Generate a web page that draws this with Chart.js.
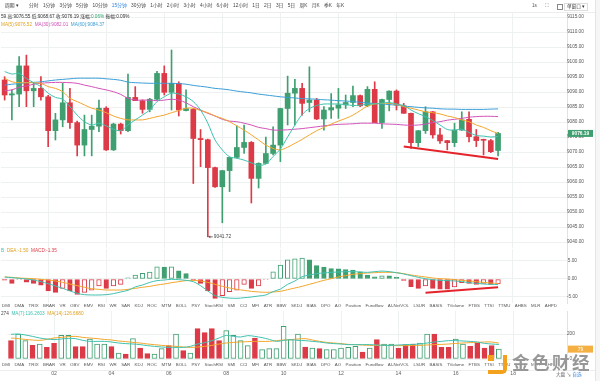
<!DOCTYPE html>
<html><head><meta charset="utf-8">
<script src="https://cdn.jsdelivr.net/npm/chart.js@4.4.1/dist/chart.umd.min.js"></script>
<style>
html,body{margin:0;padding:0;background:#fff}
body{width:600px;height:381px;overflow:hidden;position:relative;font-family:"Liberation Sans",Arial,"Noto Sans CJK SC",sans-serif;color:#333}
canvas{position:absolute;left:0}
.t{position:absolute;white-space:nowrap;line-height:1;font-size:4.7px}
.ind{position:absolute;display:flex;gap:4.4px;white-space:nowrap;line-height:1;font-size:4.4px;color:#555;left:2px}
</style></head><body>
<div style="position:absolute;left:0;top:12px;width:595px;height:1px;background:#eceeee"></div>
<div style="position:absolute;left:595px;top:0;width:1px;height:381px;background:#e4e4e4"></div>
<div style="position:absolute;left:596px;top:0;width:4px;height:381px;background:#f6f6f6"></div>
<canvas id="cMain" width="595" height="258" style="top:0"></canvas>
<canvas id="cMacd" width="595" height="66" style="top:243px"></canvas>
<canvas id="cVol" width="595" height="81" style="top:300px"></canvas>
<script>
// ---------------- DATA ----------------
const TIMES = ["00:30","00:45","01:00","01:15","01:30","01:45","02:00","02:15","02:30","02:45",
"03:00","03:15","03:30","03:45","04:00","04:15","04:30","04:45","05:00","05:15",
"05:30","05:45","06:00","06:15","06:30","06:45","07:00","07:15","07:30","07:45",
"08:00","08:15","08:30","08:45","09:00","09:15","09:30","09:45","10:00","10:15",
"10:30","10:45","11:00","11:15","11:30","11:45","12:00","12:15","12:30","12:45",
"13:00","13:15","13:30","13:45","14:00","14:15","14:30","14:45","15:00","15:15",
"15:30","15:45","16:00","16:15","16:30","16:45","17:00","17:15","17:30","17:45",
"18:00","18:15","18:30","18:45","19:00","19:15","19:30","19:45"];

const PRICE_TICKS = [9040,9045,9050,9055,9060,9065,9070,9075,9080,9085,9090,9095,9100,9105,9110,9115];
const MACD_TICKS = [-5, 0, 5];
const VOL_TICKS = [0, 200];

const OPEN = [9094.0,9089.0,9089.3,9098.7,9090.4,9091.2,9088.4,9077.1,9080.7,9086.4,
9079.8,9072.3,9077.5,9078.6,9084.6,9070.7,9079.3,9077.1,9088.2,9087.1,
9084.2,9087.6,9096.2,9089.9,9092.9,9083.8,9084.2,9074.5,9074.1,9064.8,
9058.4,9063.8,9068.2,9071.5,9073.2,9061.2,9066.2,9069.5,9072.3,9084.5,
9089.6,9091.2,9086.5,9087.3,9081.0,9084.0,9084.6,9085.7,9086.5,9088.8,
9085.4,9090.9,9079.8,9087.5,9090.3,9085.4,9082.9,9073.1,9077.1,9083.4,
9075.7,9073.8,9073.1,9077.3,9080.9,9075.1,9074.2,9073.8,9070.5];
const HIGH = [9095.1,9090.7,9101.8,9102.3,9092.9,9095.1,9088.9,9082.9,9092.9,9091.2,
9080.3,9082.3,9082.3,9087.3,9085.1,9079.6,9079.6,9096.0,9091.8,9087.4,
9087.9,9096.9,9098.7,9104.0,9093.4,9090.7,9084.5,9077.5,9074.3,9065.0,
9063.9,9068.3,9078.7,9079.0,9073.5,9066.4,9075.0,9078.4,9084.6,9095.3,
9094.2,9092.9,9098.4,9087.9,9085.1,9089.5,9091.2,9089.0,9092.0,9089.0,
9091.8,9093.4,9087.6,9090.4,9090.7,9086.2,9083.0,9077.2,9085.1,9083.5,
9077.9,9073.9,9079.6,9083.4,9083.4,9077.5,9074.3,9074.2,9076.55];
const LOW = [9087.3,9080.7,9085.1,9085.1,9085.1,9087.3,9071.8,9074.0,9078.4,9077.9,
9068.7,9068.7,9068.7,9076.8,9070.5,9070.5,9076.0,9076.8,9087.9,9082.9,
9083.4,9087.3,9089.0,9084.0,9082.0,9083.7,9059.5,9065.1,9041.72,9058.2,
9046.4,9056.8,9068.0,9069.5,9053.0,9058.0,9066.0,9069.0,9066.8,9079.0,
9079.0,9082.3,9083.4,9080.8,9077.3,9081.2,9081.2,9084.5,9085.1,9085.1,
9085.1,9079.8,9077.9,9083.7,9084.0,9082.9,9071.2,9071.8,9076.2,9074.6,
9072.9,9070.7,9071.8,9077.2,9073.4,9071.8,9069.0,9069.8,9068.67];
const CLOSE = [9089.0,9089.4,9098.7,9090.4,9091.2,9088.4,9077.1,9080.7,9086.4,9079.8,
9072.3,9077.5,9078.6,9084.6,9070.7,9079.3,9077.1,9088.2,9087.1,9084.2,
9087.6,9096.2,9089.9,9092.9,9084.0,9084.5,9074.5,9074.1,9064.8,9058.4,
9063.8,9068.2,9071.5,9073.2,9061.2,9066.2,9069.5,9072.3,9084.5,9089.6,
9091.2,9086.2,9087.3,9081.0,9084.0,9084.8,9085.7,9086.5,9088.8,9085.4,
9090.9,9079.8,9087.5,9090.3,9085.7,9082.9,9073.1,9077.1,9083.4,9075.7,
9073.7,9073.1,9077.3,9080.7,9075.1,9073.8,9073.9,9070.1,9076.19];

const MA_FAST = [9096.8,9096.0,9096.2,9094.5,9093.1,9091.8,9089.6,9088.2,9087.6,9085.1,
9082.3,9080.1,9079.0,9079.6,9078.7,9077.6,9077.1,9079.0,9080.7,9082.3,
9084.0,9086.8,9088.4,9089.6,9089.3,9088.4,9086.8,9084.0,9079.6,9074.0,
9070.7,9068.4,9067.9,9067.3,9066.4,9065.6,9066.0,9068.5,9071.0,9075.0,
9079.0,9082.5,9084.5,9085.5,9086.0,9086.0,9086.0,9085.8,9085.5,9085.6,
9086.0,9086.0,9086.3,9086.5,9086.0,9085.5,9084.0,9082.8,9081.8,9080.5,
9079.0,9077.5,9077.3,9077.6,9076.5,9075.5,9075.3,9075.0,9075.2];
const MA5 = [9094.6,9093.4,9093.1,9093.1,9093.1,9092.9,9091.8,9091.2,9090.1,9087.9,
9086.8,9085.7,9084.6,9084.0,9083.1,9082.0,9081.2,9080.7,9080.7,9080.7,
9081.2,9081.8,9082.3,9083.1,9083.8,9084.6,9084.6,9083.8,9083.1,9082.0,
9081.2,9080.1,9078.7,9077.3,9075.7,9074.0,9072.3,9071.2,9070.7,9071.6,
9072.9,9074.2,9075.7,9077.1,9078.2,9079.3,9080.3,9081.2,9082.3,9083.8,
9085.3,9086.0,9086.2,9086.2,9085.9,9085.1,9084.6,9084.0,9083.4,9083.1,
9082.7,9082.0,9081.5,9080.7,9080.1,9079.0,9078.2,9077.1,9076.2];
const MA30 = [9090.4,9090.7,9091.6,9092.0,9092.6,9092.9,9093.1,9093.2,9093.2,9093.1,
9092.9,9092.3,9091.8,9091.2,9090.7,9090.1,9089.2,9087.9,9087.3,9087.3,
9087.3,9087.1,9087.3,9087.6,9087.3,9086.4,9085.1,9084.0,9082.9,9082.0,
9080.9,9080.3,9080.1,9079.6,9079.0,9078.2,9077.8,9077.3,9077.3,9077.4,
9077.6,9077.8,9078.1,9078.4,9078.7,9079.0,9079.2,9079.3,9079.4,9079.6,
9079.6,9079.6,9079.4,9079.3,9079.2,9079.0,9078.9,9079.0,9079.3,9079.8,
9080.1,9080.6,9080.9,9081.2,9081.6,9081.8,9081.9,9081.9,9081.8];
const MA60 = [9092.3,9092.6,9092.8,9093.1,9093.2,9093.4,9093.7,9094.0,9094.2,9094.4,
9094.6,9094.6,9094.6,9094.6,9094.4,9094.2,9093.9,9093.3,9093.1,9093.0,
9092.9,9092.9,9092.9,9092.9,9092.8,9092.6,9092.2,9091.9,9091.6,9091.2,
9091.0,9090.7,9090.3,9090.0,9089.7,9089.3,9089.0,9088.7,9088.4,9088.2,
9088.0,9087.8,9087.7,9087.6,9087.4,9087.3,9087.1,9087.0,9086.8,9086.6,
9086.3,9086.2,9086.0,9085.8,9085.6,9085.3,9085.1,9084.9,9084.7,9084.6,
9084.4,9084.3,9084.3,9084.2,9084.2,9084.2,9084.2,9084.3,9084.37];

const MACD_HIST = [-0.3,-1.2,-0.2,-0.9,-1.2,-1.7,-3.3,-3.7,-2.6,-3.3,
-4.3,-3.7,-3.1,-1.9,-2.6,-1.9,-1.5,0.3,1.1,1.6,
1.9,3.4,3.3,3.4,2.3,1.5,-0.3,-1.2,-3.3,-5.4,
-4.6,-3.5,-3.1,-1.5,-2.6,-1.9,-0.2,2.0,3.9,5.3,
5.6,5.8,5.3,3.7,3.3,2.9,2.8,2.6,2.5,2.0,
1.1,0.6,0.9,0.9,0.5,-0.4,-2.1,-2.6,-1.9,-2.6,
-2.8,-2.8,-2.2,-1.0,-1.2,-1.5,-1.2,-1.5,-1.35];
const MACD_DIF = [0.56,0.37,0.19,0,-0.28,-0.74,-1.3,-1.94,-2.6,-3.3,
-4.0,-4.35,-4.44,-4.44,-4.35,-4.07,-3.6,-3.15,-2.2,-1.67,
-0.93,-0.46,-0.28,-0.09,-0.19,-0.37,-0.74,-1.85,-3.33,-4.63,
-5.1,-5.3,-5.37,-5.2,-5.0,-4.72,-4.44,-3.5,-2.8,-1.48,
-0.56,0.65,1.1,1.5,1.67,1.85,1.94,2.04,2.04,1.94,
1.85,2.04,2.2,2.04,1.76,1.39,0.93,0.46,0.09,-0.19,
-0.37,-0.46,-0.56,-0.74,-1.02,-1.2,-1.39,-1.48,-1.55];
const MACD_DEA = [0.56,0.46,0.28,0.19,0.09,-0.09,-0.28,-0.56,-0.93,-1.39,
-1.85,-2.3,-2.69,-2.87,-3.06,-3.06,-3.06,-2.87,-2.6,-2.3,
-2.04,-1.67,-1.39,-1.02,-0.74,-0.46,-0.37,-0.56,-0.93,-1.48,
-2.04,-2.5,-2.87,-3.15,-3.43,-3.6,-3.7,-3.6,-3.43,-2.96,
-2.5,-2.04,-1.48,-0.93,-0.37,0.09,0.56,0.93,1.3,1.48,
1.67,1.76,1.85,1.85,1.76,1.48,1.1,0.83,0.56,0.28,
0.09,0,-0.19,-0.37,-0.56,-0.74,-0.93,-1.11,-1.3];

const VOLUME = [147,200,147,109,120,93,125,189,189,99,
99,160,120,120,99,48,40,163,88,43,
40,83,107,200,67,48,243,211,243,147,
227,189,147,107,168,75,83,83,261,155,
200,96,88,83,75,75,88,93,101,56,
88,155,120,120,88,115,120,128,200,200,
93,93,160,120,101,128,88,107,79];
const VOL_MA7 = [197,200,192,181,168,160,155,160,165,163,
149,141,141,141,136,128,123,120,115,107,
101,96,93,93,93,101,120,131,147,168,
189,181,176,187,181,171,157,141,149,155,
149,147,141,136,128,123,120,115,115,115,
115,112,109,109,112,115,117,120,128,136,
141,147,147,144,141,136,125,120,116];
const VOL_MA14 = [168,163,157,152,149,157,168,173,179,181,
173,168,163,157,152,144,139,133,128,120,
115,109,104,101,96,93,96,101,109,120,
128,133,136,139,141,141,141,147,152,155,
160,163,152,141,133,128,123,117,115,112,
109,109,109,107,107,107,109,109,112,115,
117,120,125,128,131,133,136,136,127];

const TREND_PRICE = [[55, 9071.8], [68, 9067.7]];
const TREND_MACD = [[58, -3.8], [68, -2.3]];

// ---------------- STYLE ----------------
const UP = '#3f9f70', DOWN = '#dc3a46';
const TEAL = '#3fc1b0', ORANGE = '#f3a62c', MAGENTA = '#d352b8', BLUE = '#3a9ed6';
const GRID = '#eef1f1', AXISC = '#555';
const FONT = '"Liberation Sans", Arial, sans-serif';
Chart.defaults.font.family = FONT;

const isUp = i => CLOSE[i] >= OPEN[i];
const isMajor = i => !!TIMES[i] && TIMES[i].endsWith(':00') && (+TIMES[i].slice(0, 2)) % 2 === 0;

function xAxis(show) {
  return {
    type: 'category', offset: true,
    grid: { offset: false, drawTicks: false, color: c => isMajor(c.index) ? GRID : 'rgba(0,0,0,0)' },
    border: { display: false },
    ticks: { display: show, autoSkip: false, maxRotation: 0, minRotation: 0, padding: 11,
      font: { size: 5.2 }, color: '#666', callback: (v, i) => isMajor(i) ? TIMES[i].slice(0, 2) : '' },
    afterFit: s => { s.height = show ? 22 : 0; }
  };
}
function yAxis(min, max, tickVals, fmt) {
  return {
    position: 'right', min, max,
    afterFit: s => { s.width = 28; },
    afterBuildTicks: s => { s.ticks = tickVals.map(v => ({ value: v })); },
    grid: { color: GRID, drawTicks: false },
    border: { display: true, color: '#e2e2e2' },
    ticks: { padding: 0, crossAlign: 'center', font: { size: 4.7 }, color: AXISC, callback: fmt }
  };
}
const baseOpts = (pad, x, y) => ({
  responsive: false, animation: false, events: [],
  layout: { padding: pad },
  plugins: { legend: { display: false }, tooltip: { enabled: false } },
  scales: { x, y }
});
const line = (data, color, order, extra) => Object.assign({ type: 'line', data, borderColor: color,
  borderWidth: 1, pointRadius: 0, tension: 0.3, fill: false, order }, extra || {});
const trend = (pts) => ({ type: 'line', data: pts.map(p => ({ x: TIMES[p[0]], y: p[1] })),
  borderColor: '#e5232b', borderWidth: 2, pointRadius: 0, tension: 0, order: 0 });

// ---------------- MAIN ----------------
const mainDeco = {
  id: 'mainDeco',
  afterDatasetsDraw(ch) {
    const { ctx, scales: { x, y } } = ch;
    let li = 0; LOW.forEach((v, i) => { if (v < LOW[li]) li = i; });
    const lx = x.getPixelForValue(li), ly = y.getPixelForValue(LOW[li]);
    ctx.save();
    ctx.strokeStyle = '#555'; ctx.fillStyle = '#555'; ctx.lineWidth = 0.8;
    ctx.beginPath(); ctx.moveTo(lx + 1, ly); ctx.lineTo(lx + 5, ly); ctx.stroke();
    ctx.beginPath(); ctx.moveTo(lx + 0.5, ly); ctx.lineTo(lx + 2.5, ly - 1.3); ctx.lineTo(lx + 2.5, ly + 1.3); ctx.fill();
    ctx.font = '4.8px ' + FONT; ctx.textBaseline = 'middle'; ctx.fillStyle = '#444';
    ctx.fillText(LOW[li].toFixed(2), lx + 6, ly);
    const last = CLOSE[CLOSE.length - 1];
    const py = y.getPixelForValue(last);
    ctx.fillStyle = UP; ctx.fillRect(x.right + 1, py - 3.5, 25, 7);
    ctx.fillStyle = '#fff'; ctx.font = 'bold 4.8px ' + FONT; ctx.textAlign = 'center';
    ctx.fillText(last.toFixed(2), x.right + 13.5, py + 0.3);
    ctx.restore();
  }
};
new Chart(document.getElementById('cMain'), {
  type: 'bar',
  data: { labels: TIMES, datasets: [
    trend(TREND_PRICE),
    line(MA_FAST, TEAL, 1),
    line(MA5, ORANGE, 1),
    line(MA30, MAGENTA, 1),
    line(MA60, BLUE, 1),
    { type: 'bar', data: LOW.map((l, i) => [l, HIGH[i]]), backgroundColor: c => isUp(c.dataIndex) ? UP : DOWN,
      barThickness: 1, grouped: false, order: 6 },
    { type: 'bar', data: OPEN.map((o, i) => [o, CLOSE[i]]), backgroundColor: c => isUp(c.dataIndex) ? UP : DOWN,
      barThickness: 5, minBarLength: 1, grouped: false, order: 5 }
  ]},
  options: baseOpts({ top: 12, left: 1, right: 0, bottom: 10 }, xAxis(false),
    yAxis(9038, 9116.667, PRICE_TICKS, v => v.toFixed(2))),
  plugins: [mainDeco]
});

// ---------------- MACD ----------------
const sign = v => v >= 0 ? UP : DOWN;
const hollow = i => i > 0 && MACD_HIST[i] > MACD_HIST[i - 1];
new Chart(document.getElementById('cMacd'), {
  type: 'bar',
  data: { labels: TIMES, datasets: [
    trend(TREND_MACD),
    line(MACD_DIF, TEAL, 1),
    line(MACD_DEA, ORANGE, 1),
    { type: 'bar', data: MACD_HIST, borderColor: c => sign(MACD_HIST[c.dataIndex]),
      backgroundColor: c => hollow(c.dataIndex) ? '#fff' : sign(MACD_HIST[c.dataIndex]),
      borderWidth: 1, borderSkipped: false, barThickness: 4.6, grouped: false, order: 5 }
  ]},
  options: baseOpts({ top: 6, left: 1, right: 0, bottom: 6 }, xAxis(false),
    yAxis(-6.667, 8.333, MACD_TICKS, v => v.toFixed(2)))
});

// ---------------- VOLUME ----------------
const volDeco = {
  id: 'volDeco',
  afterDatasetsDraw(ch) {
    const { ctx, scales: { x, y } } = ch;
    const v = VOLUME[VOLUME.length - 1];
    const py = y.getPixelForValue(v);
    ctx.save();
    ctx.fillStyle = '#f5b043'; ctx.fillRect(x.right + 1, py - 3.5, 25, 7);
    ctx.fillStyle = '#fff'; ctx.font = '4.8px ' + FONT; ctx.textAlign = 'center'; ctx.textBaseline = 'middle';
    ctx.fillText(String(v), x.right + 13.5, py + 0.3);
    ctx.restore();
  }
};
new Chart(document.getElementById('cVol'), {
  type: 'bar',
  data: { labels: TIMES, datasets: [
    line(VOL_MA7, TEAL, 1),
    line(VOL_MA14, ORANGE, 1),
    { type: 'bar', data: VOLUME, borderColor: c => isUp(c.dataIndex) ? UP : DOWN,
      backgroundColor: c => isUp(c.dataIndex) ? '#fff' : DOWN,
      borderWidth: 1, borderSkipped: false, barThickness: 5, grouped: false, order: 5 }
  ]},
  options: baseOpts({ top: 11, left: 1, right: 0, bottom: 0 }, xAxis(true),
    yAxis(0, 384, VOL_TICKS, v => String(v))),
  plugins: [volDeco]
});
</script>

<!-- toolbar -->
<div class="t" style="top:3.5px;left:5px;font-size:4.8px;color:#333">周期 ▾</div>
<div style="position:absolute;top:3.5px;left:29px;display:flex;gap:4.3px;font-size:4.8px;line-height:1;color:#444;white-space:nowrap">
<span>分时</span><span>1分钟</span><span>3分钟</span><span>5分钟</span><span>10分钟</span><span style="color:#2d7fe0">15分钟</span><span>30分钟</span><span>1小时</span><span>2小时</span><span>3小时</span><span>4小时</span><span>6小时</span><span>12小时</span><span>1日</span><span>2日</span><span>3日</span><span>5日</span><span>周K</span><span>月K</span><span>季K</span><span>年K</span>
</div>
<div class="t" style="top:3.5px;left:532px;color:#555">1s</div>
<div class="t" style="top:3px;left:545px;color:#777;font-size:5px">⛶</div>
<div style="position:absolute;top:3.5px;left:557px;width:4px;height:4px;border:0.8px solid #888"></div>
<div class="t" style="top:2.5px;left:564px;padding:1px 2px;border:0.8px solid #ddd;color:#333;font-size:4.6px">单窗口 ▾</div>

<!-- header lines -->
<div class="t" style="top:15px;left:1px;color:#333">59 高:9076.55 低:9068.67 收:9076.19 涨幅:<span style="color:#2ea36a">0.06%</span> 振幅:0.09%</div>
<div class="t" style="top:23px;left:1px"><span style="color:#e0a020">MA(5):9076.52</span>&nbsp; <span style="color:#d352b8">MA(30):9082.01</span>&nbsp; <span style="color:#3a9ed6">MA(60):9084.37</span></div>

<!-- MACD header -->
<div class="t" style="top:249px;left:1px"><span style="color:#3fc1b0">B</span>&nbsp; <span style="color:#e0a020">DEA:-1.50</span>&nbsp; <span style="color:#dc3a46">MACD:-1.35</span></div>

<!-- indicator row 1 -->
<div class="ind" style="top:304px"><span>DMI</span><span>DMA</span><span>TRIX</span><span>BRAR</span><span>VR</span><span>OBV</span><span>EMV</span><span>RSI</span><span>WR</span><span>SAR</span><span>KDJ</span><span>ROC</span><span>MTM</span><span>BOLL</span><span>PSY</span><span>StochRSI</span><span>SMI</span><span>CCI</span><span>MFI</span><span>ATR</span><span>BBW</span><span>SKDJ</span><span>BIAS</span><span>DPO</span><span>AO</span><span>Position</span><span>Fundflow</span><span>AI-NetVOL</span><span>LSUR</span><span>BASIS</span><span>TVolume</span><span>FTBS</span><span>TTSI</span><span>TTMU</span><span>AHBS</span><span>MLR</span><span>AHPD</span></div>

<!-- volume header -->
<div class="t" style="top:311.5px;left:1px"><span style="color:#444">274</span>&nbsp; <span style="color:#3fc1b0">MA(7):116.2603</span>&nbsp; <span style="color:#e0a020">MA(14):126.6680</span></div>

<!-- indicator row 2 -->
<div class="ind" style="top:363px"><span>DMI</span><span>DMA</span><span>TRIX</span><span>BRAR</span><span>VR</span><span>OBV</span><span>EMV</span><span>RSI</span><span>WR</span><span>SAR</span><span>KDJ</span><span>ROC</span><span>MTM</span><span>BOLL</span><span>PSY</span><span>StochRSI</span><span>SMI</span><span>CCI</span><span>MFI</span><span>ATR</span><span>BBW</span><span>SKDJ</span><span>BIAS</span><span>DPO</span><span>AO</span><span>Position</span><span>Fundflow</span><span>AI-NetVOL</span><span>LSUR</span><span>BASIS</span><span>TVolume</span><span>FTBS</span><span>TTSI</span><span>TTMU</span><span>AHBS</span><span>MLR</span><span>AHPD</span></div>
<div style="position:absolute;left:0;top:369.5px;width:595px;height:1px;background:#eceeee"></div>

<!-- watermark -->
<div style="position:absolute;left:488px;top:355px;width:15px;height:15px;border-right:4.5px solid #f3a21d;border-bottom:4.5px solid #f3a21d;border-radius:0 0 5px 0"></div>
<div style="position:absolute;left:488px;top:355px;width:6px;height:6px;background:#f3a21d"></div>
<div class="t" style="left:512px;top:353px;font-size:17.5px;font-weight:bold;color:rgba(140,140,140,0.9);font-family:'Noto Sans CJK SC',sans-serif;text-shadow:0 0 2px #fff,0 0 2px #fff;letter-spacing:2.5px">金色财经</div>
<div class="t" style="left:556px;top:373px;font-size:4.6px;color:#555">大盘 ↘ <span style="color:#2d7fe0">自选</span></div>
</body></html>
